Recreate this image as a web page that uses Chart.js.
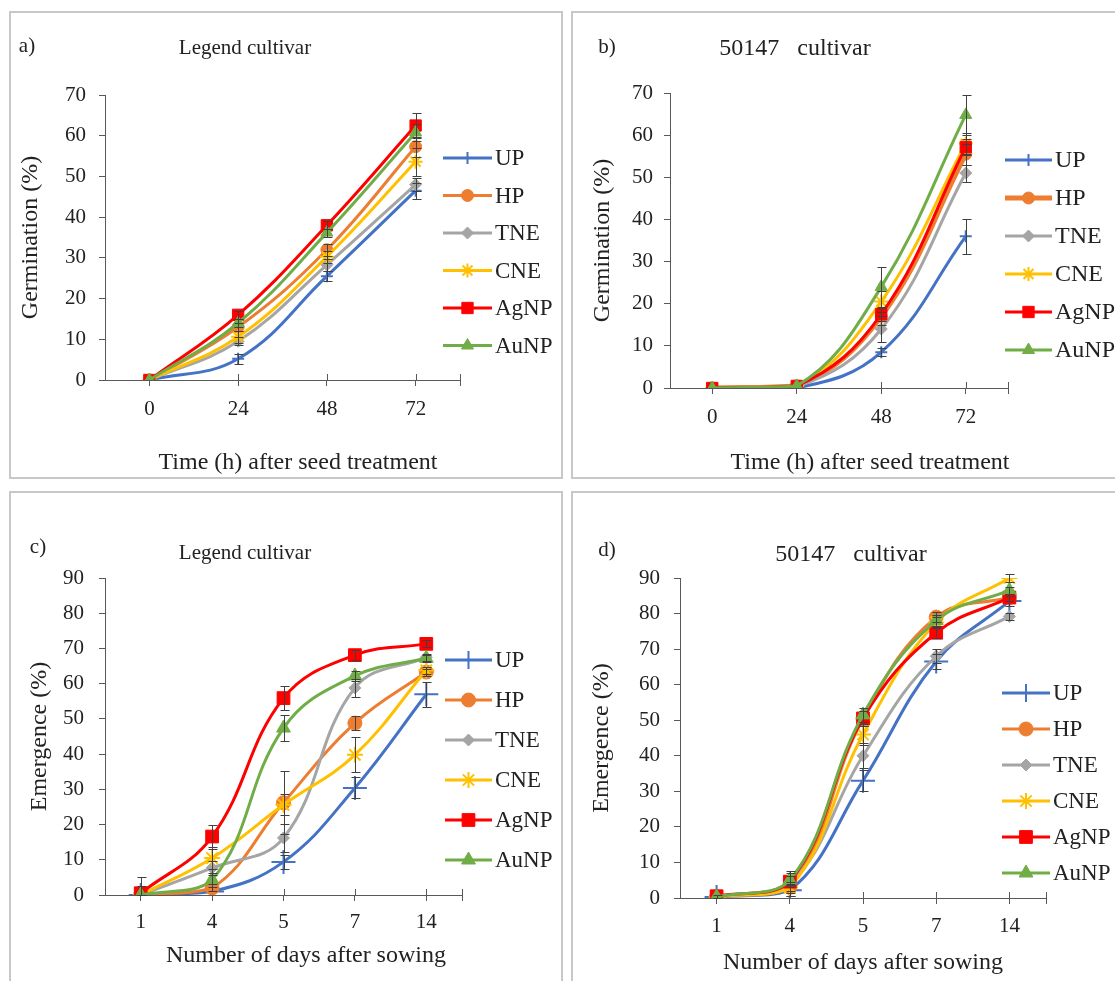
<!DOCTYPE html>
<html>
<head>
<meta charset="utf-8">
<script src="https://cdn.jsdelivr.net/npm/chart.js@4.4.1/dist/chart.umd.min.js"></script>
<style>
  body { margin: 0; background: #fff; width: 1115px; height: 981px; overflow: hidden; position: relative; font-family: "Liberation Serif", "Times New Roman", serif; }
  .panel { position: absolute; border: 2px solid #c8c8c8; box-sizing: border-box; }
  canvas { position: absolute; }
  .txt { position: absolute; color: #222; white-space: pre; transform: translate(-50%, -50%); }
</style>
</head>
<body>
<div class="panel" style="left:9px;top:11px;width:554px;height:468px"></div>
<div class="panel" style="left:571px;top:11px;width:600px;height:468px"></div>
<div class="panel" style="left:9px;top:491px;width:554px;height:600px"></div>
<div class="panel" style="left:571px;top:491px;width:600px;height:600px"></div>

<canvas id="chartA" width="552" height="466" style="left:10px;top:12px"></canvas>
<canvas id="chartB" width="543" height="466" style="left:572px;top:12px"></canvas>
<canvas id="chartC" width="552" height="489" style="left:10px;top:492px"></canvas>
<canvas id="chartD" width="543" height="489" style="left:572px;top:492px"></canvas>

<div class="txt" style="left:27px;top:45px;font-size:21px">a)</div>
<div class="txt" style="left:245px;top:47px;font-size:21px">Legend cultivar</div>
<div class="txt" style="left:298px;top:461px;font-size:24px">Time (h) after seed treatment</div>
<div class="txt" style="left:607px;top:46px;font-size:21px">b)</div>
<div class="txt" style="left:795px;top:47px;font-size:24px">50147   cultivar</div>
<div class="txt" style="left:870px;top:461px;font-size:24px">Time (h) after seed treatment</div>
<div class="txt" style="left:38px;top:546px;font-size:21px">c)</div>
<div class="txt" style="left:245px;top:552px;font-size:21px">Legend cultivar</div>
<div class="txt" style="left:306px;top:954px;font-size:24px">Number of days after sowing</div>
<div class="txt" style="left:607px;top:549px;font-size:21px">d)</div>
<div class="txt" style="left:851px;top:553px;font-size:24px">50147   cultivar</div>
<div class="txt" style="left:863px;top:961px;font-size:24px">Number of days after sowing</div>

<script>
// treatments, in legend order
const series = ["UP", "HP", "TNE", "CNE", "AgNP", "AuNP"];
const colors = ["#4472C4", "#ED7D31", "#A5A5A5", "#FFC000", "#FF0000", "#70AD47"];
const styles = ["cross", "circle", "rectRot", "star", "rect", "triangle"];

const hourLabels = ["0", "24", "48", "72"];
const dayLabels = ["1", "4", "5", "7", "14"];

// a) germination (%), Legend cultivar
const germLegendVals = [
  [0, 5.2, 25.5, 46.5],
  [0, 13, 32, 57.3],
  [0, 9.5, 28.3, 48],
  [0, 10.6, 30.3, 53.6],
  [0, 16, 38, 62.5],
  [0, 14, 36.2, 60.8]
];
const germLegendErr = [
  [0, 1.2, 1.2, 2],
  [0, 1, 1.5, 2.5],
  [0, 1, 1.5, 1.5],
  [0, 1.5, 1.5, 3.5],
  [0, 1, 1, 3],
  [0, 1, 1, 2]
];

// b) germination (%), 50147 cultivar
const germ50147Vals = [
  [0, 0, 8.5, 36],
  [0, 0.5, 17, 55.5],
  [0, 0.3, 14, 51],
  [0, 0.5, 20.5, 58],
  [0, 0.5, 17.5, 57.2],
  [0, 0.5, 24, 64.8]
];
const germ50147Err = [
  [0, 0, 1, 4.2],
  [0, 0, 2, 2.5],
  [0, 0, 3, 2],
  [0, 0, 2.5, 2.5],
  [0, 0, 1.5, 2],
  [0, 0, 4.7, 4.7]
];

// c) emergence (%), Legend cultivar
const emergLegendVals = [
  [0, 1, 9.4, 30.4, 57],
  [0, 2, 26.2, 48.8, 63.3],
  [0, 7.7, 16.2, 58.8, 67.5],
  [0, 10.5, 25.6, 39.8, 63.8],
  [0.5, 16.6, 55.9, 68.1, 71.3],
  [0, 4.3, 47.4, 62.2, 67.2]
];
const emergLegendErr = [
  [0, 0, 2, 3, 3.5],
  [0, 1, 9, 2, 1],
  [0, 2, 4, 2.5, 1],
  [0, 3, 3, 5, 1],
  [2, 3.4, 3.5, 1.5, 1],
  [5, 2, 3.8, 1.5, 1]
];

// d) emergence (%), 50147 cultivar
const emerg50147Vals = [
  [0.3, 2.2, 33, 66.5, 83.5],
  [0.3, 3, 50.5, 79, 84.5],
  [0.3, 4, 40, 68, 79.2],
  [0.3, 3, 46, 77.5, 90],
  [0.5, 4.6, 50.5, 74.6, 84.5],
  [0.3, 5, 51.5, 78, 86.5]
];
const emerg50147Err = [
  [0.5, 1.5, 3, 2, 1.5],
  [0, 1, 2, 1.5, 1],
  [0, 3.5, 3.5, 2, 1],
  [0, 1.5, 3, 1.5, 1],
  [0, 1.5, 2, 1.5, 1],
  [0, 2, 2, 1.5, 1]
];

const axisColor = "#595959";
const textColor = "#222";
const fontFamily = "'Liberation Serif', 'Times New Roman', serif";

// error bars with caps
const errorBars = {
  id: "errorBars",
  afterDatasetsDraw(chart) {
    const ctx = chart.ctx, ys = chart.scales.y;
    ctx.save();
    ctx.strokeStyle = "#404040";
    ctx.lineWidth = 1;
    chart.data.datasets.forEach((ds, i) => {
      chart.getDatasetMeta(i).data.forEach((pt, j) => {
        const e = ds.errors[j];
        if (!e) return;
        const v = ds.data[j].y;
        const x = Math.round(pt.x) + 0.5;
        const t = Math.round(ys.getPixelForValue(v + e)) + 0.5;
        const b = Math.round(ys.getPixelForValue(Math.max(v - e, 0))) + 0.5;
        ctx.beginPath();
        ctx.moveTo(x, t); ctx.lineTo(x, b);
        ctx.moveTo(x - 4, t); ctx.lineTo(x + 5, t);
        ctx.moveTo(x - 4, b); ctx.lineTo(x + 5, b);
        ctx.stroke();
      });
    });
    ctx.restore();
  }
};

// x tick marks cross the axis line
const crossTicks = {
  id: "crossTicks",
  beforeDatasetsDraw(chart) {
    const xs = chart.scales.x, ctx = chart.ctx, b = chart.chartArea.bottom;
    ctx.save();
    ctx.strokeStyle = axisColor;
    ctx.lineWidth = 1;
    xs.ticks.forEach(t => {
      const px = Math.round(xs.getPixelForValue(t.value)) + 0.5;
      ctx.beginPath(); ctx.moveTo(px, b - 6); ctx.lineTo(px, b); ctx.stroke();
    });
    ctx.restore();
  }
};

// legend drawn at a fixed spot (it overlaps the plot in panel d)
const legendBox = {
  id: "legendBox",
  afterDraw(chart, args, opts) {
    const ctx = chart.ctx;
    chart.data.datasets.forEach((ds, i) => {
      const y = opts.y + i * opts.dy;
      ctx.save();
      ctx.strokeStyle = ds.borderColor;
      ctx.lineWidth = ds.borderWidth;
      ctx.beginPath(); ctx.moveTo(opts.x, y); ctx.lineTo(opts.x + opts.w, y); ctx.stroke();
      ctx.fillStyle = ds.pointBackgroundColor;
      ctx.strokeStyle = ds.pointBorderColor;
      ctx.lineWidth = ds.pointBorderWidth;
      Chart.helpers.drawPoint(ctx, { pointStyle: ds.pointStyle, radius: opts.radii[i], borderWidth: ds.pointBorderWidth, rotation: 0 }, opts.x + opts.w / 2, y);
      ctx.fillStyle = textColor;
      ctx.font = opts.fontSize + "px " + fontFamily;
      ctx.textBaseline = "middle";
      ctx.fillText(ds.label, opts.x + opts.w + 3, y + 1);
      ctx.restore();
    });
  }
};

function makePanel(id, labels, vals, errs, cfg) {
  const datasets = series.map((name, i) => ({
    label: name,
    data: vals[i].map((v, j) => ({ x: j, y: v })),
    errors: errs[i],
    borderColor: colors[i],
    backgroundColor: colors[i],
    borderWidth: cfg.lineWidths[i],
    pointStyle: styles[i],
    pointRadius: cfg.radii[i],
    pointBorderWidth: (styles[i] === "cross" || styles[i] === "star") ? 2 : 1,
    pointBackgroundColor: colors[i],
    pointBorderColor: colors[i],
    tension: 0.4,
    order: series.length - i
  }));
  const tickFont = { family: fontFamily, size: 21 };
  const titleFont = { family: fontFamily, size: 24 };

  new Chart(document.getElementById(id), {
    type: "line",
    data: { datasets: datasets },
    plugins: [crossTicks, errorBars, legendBox],
    options: {
      responsive: false,
      animation: false,
      devicePixelRatio: 1,
      layout: { padding: cfg.padding },
      plugins: {
        legend: { display: false },
        tooltip: { enabled: false },
        legendBox: cfg.legend
      },
      scales: {
        x: {
          type: "linear",
          min: -0.5,
          max: labels.length - 0.5,
          afterBuildTicks(s) {
            s.ticks = labels.map((l, j) => ({ value: j })).concat([{ value: labels.length - 0.5 }]);
          },
          afterFit(s) { s.height = cfg.xH; },
          ticks: { callback: v => labels[v] ?? "", font: tickFont, color: textColor, padding: cfg.xPad, maxRotation: 0, autoSkip: false },
          grid: { drawOnChartArea: false, tickLength: 6, color: axisColor },
          border: { color: axisColor, width: 1 }
        },
        y: {
          min: 0,
          max: cfg.yMax,
          afterFit(s) { s.width = cfg.yW; },
          ticks: { stepSize: 10, font: tickFont, color: textColor, padding: cfg.yPad },
          grid: { drawOnChartArea: false, tickLength: 6, color: axisColor },
          border: { color: axisColor, width: 1 },
          title: { display: true, text: cfg.yTitle, font: titleFont, color: textColor, padding: { top: 0, bottom: 0 } }
        }
      }
    }
  });
}

makePanel("chartA", hourLabels, germLegendVals, germLegendErr, {
  padding: { left: 6, right: 102, top: 83, bottom: 0 },
  yW: 89, xH: 98, xPad: 11, yPad: 13, yMax: 70,
  yTitle: "Germination (%)",
  lineWidths: [3, 3, 3, 3, 3, 3],
  radii: [6, 6, 6, 7, 8, 7],
  legend: { x: 433, y: 146, dy: 37.5, w: 49, fontSize: 23, radii: [6, 6, 6, 7, 8, 7] }
});

makePanel("chartB", hourLabels, germ50147Vals, germ50147Err, {
  padding: { left: 16, right: 107, top: 81, bottom: 0 },
  yW: 82, xH: 90, xPad: 11, yPad: 11, yMax: 70,
  yTitle: "Germination (%)",
  lineWidths: [3, 5, 3, 3, 3, 3],
  radii: [6, 6, 6, 7, 8, 7],
  legend: { x: 433, y: 148, dy: 38, w: 47, fontSize: 24, radii: [6, 6, 6, 7, 8, 7] }
});

makePanel("chartC", dayLabels, emergLegendVals, emergLegendErr, {
  padding: { left: 15, right: 100, top: 86, bottom: 0 },
  yW: 80, xH: 86, xPad: 9, yPad: 15, yMax: 90,
  yTitle: "Emergence (%)",
  lineWidths: [3, 3, 3, 3, 3, 3],
  radii: [12, 7, 6, 8, 9, 8],
  legend: { x: 435, y: 168, dy: 40, w: 47, fontSize: 23, radii: [9, 7, 6, 8, 9, 8] }
});

makePanel("chartD", dayLabels, emerg50147Vals, emerg50147Err, {
  padding: { left: 15, right: 69, top: 86, bottom: 0 },
  yW: 93, xH: 83, xPad: 10, yPad: 14, yMax: 90,
  yTitle: "Emergence (%)",
  lineWidths: [3, 3, 3, 3, 3, 3],
  radii: [12, 7, 6, 8, 9, 8],
  legend: { x: 430, y: 201, dy: 36, w: 48, fontSize: 23, radii: [9, 7, 6, 8, 9, 8] }
});
</script>
</body>
</html>
